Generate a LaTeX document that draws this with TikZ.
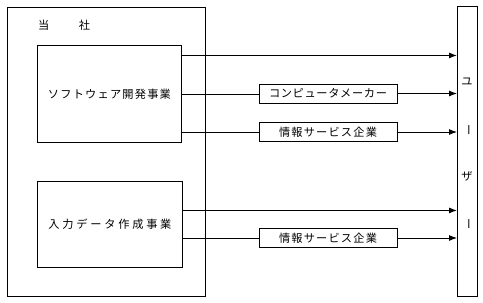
\documentclass[tikz,border=0pt]{standalone}
\usepackage{fontspec}
\newfontfamily\jp{Noto Sans CJK JP}
\usetikzlibrary{arrows.meta,calc}
\newcommand\spr[2]{\makebox[#1][s]{\sprfirst#2\relax}}
\def\sprfirst#1{#1\sprrest}
\def\sprrest#1{\ifx#1\relax\else\hfil#1\expandafter\sprrest\fi}
\tikzset{
  box/.style={draw,line width=0.9pt,inner sep=0pt,anchor=north west},
  lab/.style={draw,line width=0.9pt,inner sep=0pt,minimum width=138pt,minimum height=19pt,font=\jp\fontsize{11.2}{12}\selectfont},
  txt/.style={inner sep=0pt,font=\jp\fontsize{11.2}{12}\selectfont},
  ln/.style={line width=0.9pt},
  arr/.style={line width=0.9pt,-{Latex[length=8pt,width=6pt]}}
}
\begin{document}
\begin{tikzpicture}[x=1pt,y=-1pt]
\useasboundingbox (0,0) rectangle (483,303);
\node[box,minimum width=198pt,minimum height=289pt] (co) at (7,7) {};
\node[txt] (cot) at (64,25) {\spr{52pt}{当社}};
\node[box,minimum width=144pt,minimum height=97pt] (b1) at (37,45) {};
\node[txt] at (b1.center) (b1t) {\spr{123pt}{ソフトウェア開発事業}};
\node[box,minimum width=145pt,minimum height=86pt] (b2) at (37,181) {};
\node[txt] at (b2.center) (b2t) {\spr{123pt}{入力データ作成事業}};
\node[box,minimum width=20pt,minimum height=290pt] (us) at (457,6) {};
\node[txt] (u1) at (467,82) {ユ};
\node[txt,rotate=-90] (u2) at (467,130) {ー};
\node[txt] (u3) at (467,176) {ザ};
\node[txt,rotate=-90] (u4) at (467,224) {ー};
\node[lab] (cm) at (328,93.5) {\spr{118pt}{コンピュータメーカー}};
\node[lab] (i1) at (328,132) {\spr{98pt}{情報サービス企業}};
\node[lab] (i2) at (328,238) {\spr{98pt}{情報サービス企業}};
% arrows
\draw[arr] ([yshift=38.5pt]b1.east) -- ([yshift=38.5pt]b1.east -| us.west);
\draw[ln] (b1.east) -- (b1.east -| cm.west);
\draw[arr] (cm.east) -- (cm.east -| us.west);
\draw[ln] (i1.west -| b1.east) -- (i1.west);
\draw[arr] (i1.east) -- (i1.east -| us.west);
\draw[arr] ([yshift=14pt]b2.east) -- ([yshift=14pt]b2.east -| us.west);
\draw[ln] (i2.west -| b2.east) -- (i2.west);
\draw[arr] (i2.east) -- (i2.east -| us.west);
\end{tikzpicture}
\end{document}
